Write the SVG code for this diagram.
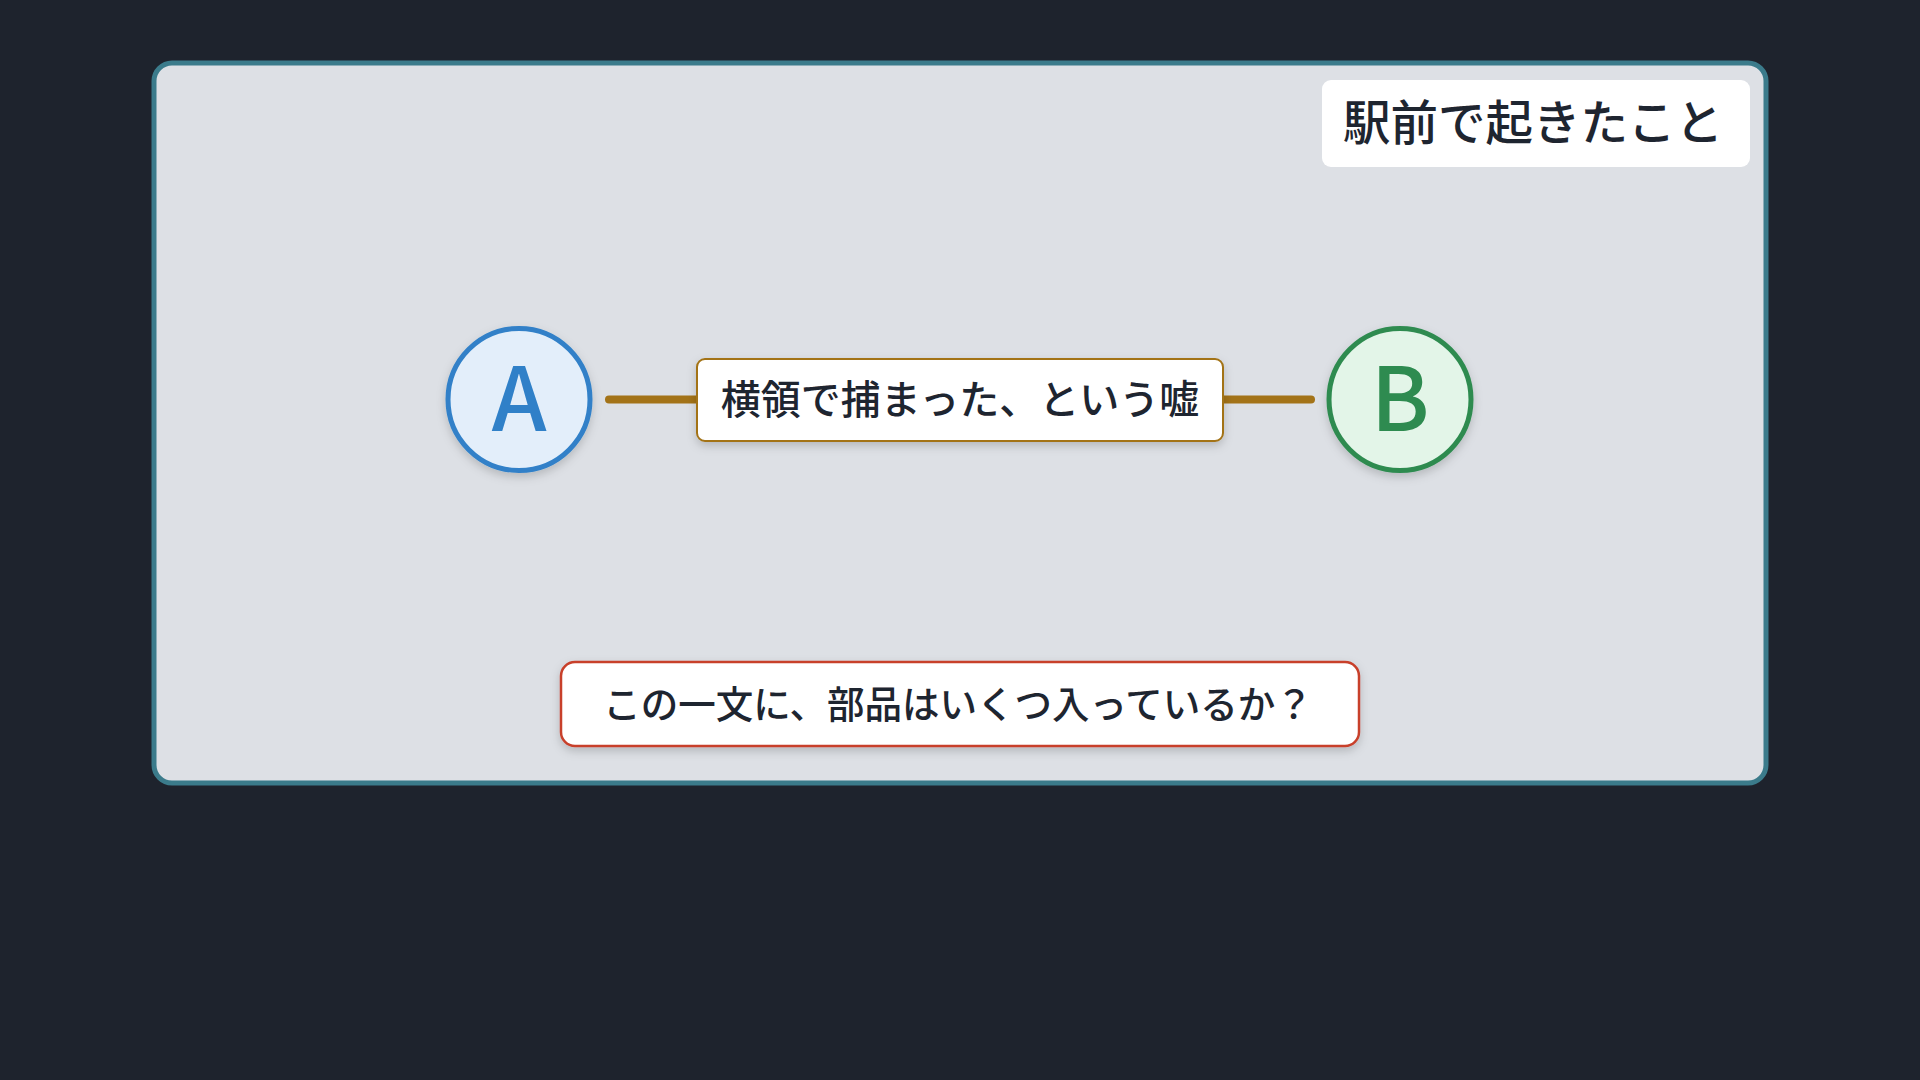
<svg xmlns="http://www.w3.org/2000/svg" width="1920" height="1080" viewBox="0 0 1920 1080">
<defs>
<filter id="sh" x="-20%" y="-20%" width="140%" height="150%">
<feDropShadow dx="0" dy="4" stdDeviation="5" flood-color="#000" flood-opacity="0.18"/>
</filter>
<style>
.jp{font-family:"Noto Sans CJK JP","Noto Sans",sans-serif;fill:#1e2530;font-weight:500;}
.nodeL{font-family:"Noto Sans CJK JP","Noto Sans",sans-serif;font-weight:500;font-size:88px;}
</style>
</defs>
<rect width="1920" height="1080" fill="#1e232d"/>
<g id="frame">
<rect x="154" y="63" width="1612" height="720" rx="18" fill="#dde0e5" stroke="#3b7b8b" stroke-width="5"/>
</g>
<g id="title">
<rect x="1322" y="80" width="428" height="87" rx="9" fill="#ffffff"/>
<text class="jp" x="1533" y="140" font-size="47.5" text-anchor="middle">駅前で起きたこと</text>
</g>
<g id="connectors">
<line x1="609" y1="399.5" x2="1311" y2="399.5" stroke="#a37318" stroke-width="8" stroke-linecap="round"/>
</g>
<g id="nodeA">
<circle cx="519" cy="399.5" r="71" fill="#e3eefa" stroke="#3080c8" stroke-width="5" filter="url(#sh)"/>
<text class="nodeL" x="519" y="431" fill="#3080c8" text-anchor="middle">A</text>
</g>
<g id="nodeB">
<circle cx="1400" cy="399.5" r="71" fill="#e3f5e8" stroke="#2e8b50" stroke-width="5" filter="url(#sh)"/>
<text class="nodeL" x="1400" y="431" fill="#2e8b50" text-anchor="middle">B</text>
</g>
<g id="edgeLabel">
<rect x="697" y="359" width="526" height="82" rx="8" fill="#ffffff" stroke="#a37318" stroke-width="2" filter="url(#sh)"/>
<text class="jp" x="960" y="414" font-size="40" text-anchor="middle">横領で捕まった、という嘘</text>
</g>
<g id="question">
<rect x="561" y="662" width="798" height="84" rx="14" fill="#ffffff" stroke="#c8402c" stroke-width="2.5" filter="url(#sh)"/>
<text class="jp" x="958" y="718" font-size="37.5" text-anchor="middle">この一文に、部品はいくつ入っているか？</text>
</g>
</svg>
